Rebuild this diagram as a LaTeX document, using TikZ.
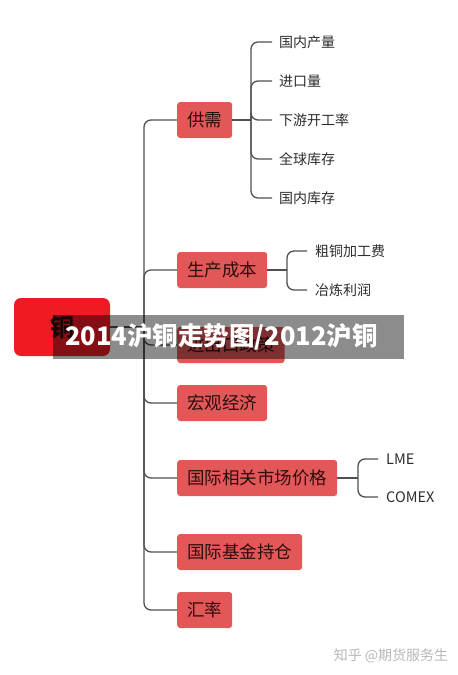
\documentclass[tikz,border=0pt]{standalone}
\usepackage{fontspec}
\setmainfont{Noto Sans CJK SC}
\usepackage{xcolor}
\usepackage{tikz}
\usetikzlibrary{positioning,calc}

\definecolor{rootred}{RGB}{240,26,36}
\definecolor{lvlred}{RGB}{226,88,88}
\definecolor{lvltext}{RGB}{45,12,12}
\definecolor{linegray}{RGB}{80,80,80}
\definecolor{subtext}{RGB}{45,45,45}
\definecolor{wmgray}{RGB}{185,185,185}

\tikzset{
  rootbox/.style={fill=rootred, rounded corners=7pt, minimum width=96pt, minimum height=58pt,
    text=lvltext, font=\fontsize{24}{24}\selectfont\bfseries},
  lvlbox/.style={fill=lvlred, rounded corners=3pt, minimum height=36pt, inner xsep=10pt,
    anchor=west, text=lvltext, font=\fontsize{17.5}{17.5}\selectfont},
  subitem/.style={anchor=west, inner xsep=7pt, text=subtext, font=\fontsize{14}{14}\selectfont},
  conn/.style={draw=linegray, line width=1.3pt, rounded corners=7pt},
}

\begin{document}
\begin{tikzpicture}[x=1pt, y=-1pt]
    \fill[white] (0,0) rectangle (458,675);
    \useasboundingbox (0,0) rectangle (458,675);

    % Root
    \node[rootbox] (root) at (62,327) {铜};
    \coordinate (hub) at (144,327);
    \draw[conn] (root.east) -- (hub);

    % First level
    \foreach \y/\name/\txt in {120/gx/供需, 270/sc/生产成本, 345/jck/进出口政策, 403/hg/宏观经济,
        478/sc2/国际相关市场价格, 552/jj/国际基金持仓, 610/hl/汇率} {
        \node[lvlbox] (\name) at (177,\y) {\txt};
        \draw[conn] (hub) |- (\name.west);
    }

    % Supply and demand
    \coordinate (gxhub) at (251,120);
    \draw[conn] (gx.east) -- (gxhub);
    \foreach \y/\name/\txt in {42/gx1/国内产量, 81/gx2/进口量, 120/gx3/下游开工率, 159/gx4/全球库存, 198/gx5/国内库存} {
        \node[subitem] (\name) at (272,\y) {\txt};
        \draw[conn] (gxhub) |- (\name.west);
    }

    % Production cost
    \coordinate (schub) at (287,270);
    \draw[conn] (sc.east) -- (schub);
    \foreach \y/\name/\txt in {251/sca/粗铜加工费, 290/scb/冶炼利润} {
        \node[subitem, inner xsep=8pt] (\name) at (307,\y) {\txt};
        \draw[conn] (schub) |- (\name.west);
    }

    % International markets
    \coordinate (mkhub) at (358,478);
    \draw[conn] (sc2.east) -- (mkhub);
    \foreach \y/\name/\txt in {459/lme/LME, 497/comex/COMEX} {
        \node[subitem, inner xsep=8pt, font=\fontsize{14.5}{14.5}\selectfont] (\name) at (378,\y) {\txt};
        \draw[conn] (mkhub) |- (\name.west);
    }

    % Watermark
    \node[text=wmgray, font=\fontsize{14}{14}\selectfont] (wm) at (391,656) {知乎 @期货服务生};

    % Banner
    \node[fill=black, fill opacity=0.45, text opacity=1, text=white, anchor=west,
        text width=327pt, align=left, inner xsep=12pt, minimum height=44pt,
        font=\fontsize{25.5}{25.5}\selectfont\bfseries] (banner) at (53,337) {2014沪铜走势图/2012沪铜};
\end{tikzpicture}
\end{document}
